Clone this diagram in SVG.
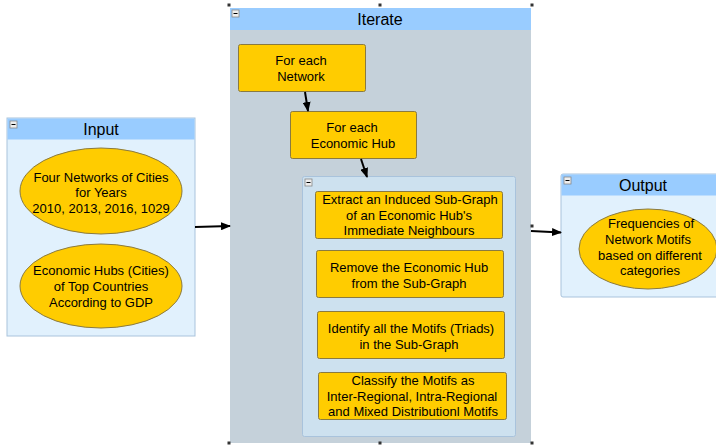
<svg xmlns="http://www.w3.org/2000/svg" width="716" height="448" viewBox="0 0 716 448">
<style>
text{font-family:"Liberation Sans",Arial,sans-serif;fill:#000;text-anchor:middle}
.t{font-size:13px}
.h{font-size:16px}
.cont{fill:#e1f1fd;stroke:#a9c3dc;stroke-width:1}
.hdr{fill:#99ccff}
.box{fill:#ffcc00;stroke:#8a7a40;stroke-width:1}
.ell{fill:#ffcc00;stroke:#8a7a40;stroke-width:1}
.mini{fill:#eeeeee;stroke:#888;stroke-width:0.8}
.conn{stroke:#000;stroke-width:2;fill:none}
.hd{fill:#333}
</style>
<defs>
<marker id="arr" markerWidth="10" markerHeight="8" refX="9" refY="4" orient="auto" markerUnits="userSpaceOnUse">
<path d="M0,0 L10,4 L0,8 z" fill="#000"/>
</marker>
<g id="minus"><rect x="0" y="0" width="7" height="7" class="mini"/><line x1="1.5" y1="3.5" x2="5.5" y2="3.5" stroke="#000" stroke-width="1"/></g>
</defs>

<g id="input">
<rect x="7" y="118" width="188" height="218" class="cont"/>
<rect x="7.5" y="118.5" width="187" height="21" class="hdr"/>
<use href="#minus" x="10" y="121"/>
<text x="101" y="135" class="h">Input</text>
</g>
<g id="n_networks">
<ellipse cx="101" cy="191" rx="81" ry="43" class="ell"/>
<text class="t" x="101" y="182">Four Networks of Cities</text>
<text class="t" x="101" y="197">for Years</text>
<text class="t" x="101" y="213">2010, 2013, 2016, 1029</text>
</g>
<g id="n_hubs">
<ellipse cx="101" cy="286" rx="81" ry="42" class="ell"/>
<text class="t" x="101" y="275">Economic Hubs (Cities)</text>
<text class="t" x="101" y="291">of Top Countries</text>
<text class="t" x="101" y="307">According to GDP</text>
</g>

<g id="iterate">
<rect x="230" y="8" width="301" height="435" fill="#c5d1da"/>
<rect x="230" y="8" width="301" height="22" class="hdr"/>
<use href="#minus" x="232" y="10"/>
<text x="380" y="25" class="h">Iterate</text>
<rect x="227.5" y="3.5" width="3" height="3" class="hd"/>
<rect x="378.5" y="3.5" width="3" height="3" class="hd"/>
<rect x="530.5" y="3.5" width="3" height="3" class="hd"/>
<rect x="530.5" y="224.5" width="3" height="3" class="hd"/>
<rect x="227.5" y="441.5" width="3" height="3" class="hd"/>
<rect x="378.5" y="441.5" width="3" height="3" class="hd"/>
<rect x="530.5" y="441.5" width="3" height="3" class="hd"/>
</g>
<g id="n_each_network">
<rect x="238.5" y="44.5" width="127" height="47" rx="2" class="box"/>
<text class="t" x="301" y="65">For each</text>
<text class="t" x="301" y="81">Network</text>
</g>
<g id="n_each_hub">
<rect x="290.5" y="111.5" width="126" height="47" rx="2" class="box"/>
<text class="t" x="352" y="132">For each</text>
<text class="t" x="353" y="148">Economic Hub</text>
</g>

<g id="inner">
<rect x="302.5" y="176.5" width="213" height="260" rx="2" fill="#cde1ef" stroke="#a9c3dc"/>
<use href="#minus" x="305" y="179"/>
</g>
<g id="n_extract">
<rect x="315.5" y="191.5" width="187" height="47" rx="2" class="box"/>
<text class="t" x="410" y="204">Extract an Induced Sub-Graph</text>
<text class="t" x="409" y="220">of an Economic Hub's</text>
<text class="t" x="409" y="235">Immediate Neighbours</text>
</g>
<g id="n_remove">
<rect x="316.5" y="250.5" width="187" height="47" rx="2" class="box"/>
<text class="t" x="409" y="272">Remove the Economic Hub</text>
<text class="t" x="409" y="288">from the Sub-Graph</text>
</g>
<g id="n_identify">
<rect x="317.5" y="311.5" width="187" height="47" rx="2" class="box"/>
<text class="t" x="411" y="333">Identify all the Motifs (Triads)</text>
<text class="t" x="409" y="349">in the Sub-Graph</text>
</g>
<g id="n_classify">
<rect x="318.5" y="372.5" width="188" height="47" rx="2" class="box"/>
<text class="t" x="413" y="385">Classify the Motifs as</text>
<text class="t" x="412" y="401">Inter-Regional, Intra-Regional</text>
<text class="t" x="413" y="416">and Mixed Distributionl Motifs</text>
</g>

<g id="output">
<rect x="561" y="174" width="160" height="123" rx="2" class="cont"/>
<rect x="561.5" y="174.5" width="160" height="21" class="hdr"/>
<use href="#minus" x="564" y="177"/>
<text x="643" y="191" class="h">Output</text>
</g>
<g id="n_freq">
<ellipse cx="648" cy="249" rx="69" ry="40" class="ell"/>
<text class="t" x="651" y="228">Frequencies of</text>
<text class="t" x="648" y="244">Network Motifs</text>
<text class="t" x="650" y="260">based on different</text>
<text class="t" x="650" y="275">categories</text>
</g>

<g id="connectors">
<line x1="195" y1="227" x2="230" y2="226" class="conn" marker-end="url(#arr)"/>
<line x1="305" y1="92" x2="308" y2="111" class="conn" marker-end="url(#arr)"/>
<line x1="361" y1="159" x2="367" y2="177" class="conn" marker-end="url(#arr)"/>
<line x1="531" y1="231" x2="561" y2="232.5" class="conn" marker-end="url(#arr)"/>
</g>
</svg>
